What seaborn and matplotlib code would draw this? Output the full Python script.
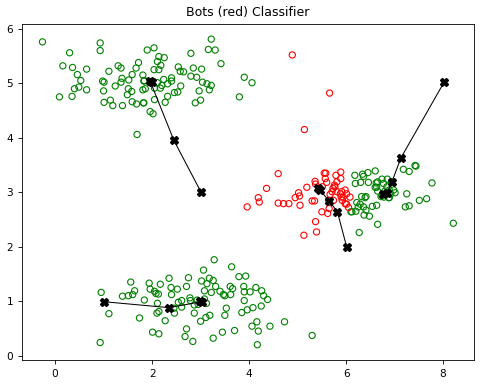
import matplotlib
matplotlib.use("Agg")
import matplotlib.pyplot as plt
import seaborn as sns
import pandas as pd

# green points (humans)
green_x = [-0.26, 0.30, 0.93, 0.93, 0.16, 0.36, 0.65, 0.46, 0.53, 0.98, 1.01, 0.40, 0.49, 0.65, 0.09, 0.35,
           1.00, 1.11, 1.30, 1.36, 1.24, 1.38, 1.36, 1.52, 1.59, 1.67, 1.72, 1.51, 1.58, 1.49, 1.01, 1.14,
           1.19, 1.39, 1.59, 1.68, 1.82, 1.81, 1.69, 1.84, 3.22, 3.16, 3.30, 2.80, 3.42, 1.90, 2.04, 2.14,
           2.25, 2.11, 2.18, 2.04, 2.14, 2.54, 2.58, 2.65, 2.85, 3.02, 2.80, 2.92, 3.04, 3.13, 3.22, 3.18,
           2.97, 3.00, 2.89, 3.90, 4.06, 3.80, 1.81, 1.83, 1.86, 2.05, 2.05, 1.83, 1.96, 2.02, 2.27, 2.32,
           2.46, 2.53, 2.59, 2.40, 2.40, 2.24, 2.20, 2.17, 2.32, 2.11,
           0.95, 1.11, 0.93, 1.39, 1.51, 1.60, 1.64, 1.56, 1.84, 1.74, 1.94, 1.96, 2.05, 2.08, 2.13, 2.17,
           2.11, 2.10, 2.14, 2.27, 2.01, 2.14, 2.35, 2.39, 2.52, 2.40, 2.75, 2.71, 2.46, 2.45, 2.54, 2.61,
           2.61, 2.79, 2.71, 2.68, 2.84, 3.28, 3.06, 3.64, 3.79, 3.93, 3.02, 3.18, 3.26, 3.13, 3.31, 3.08,
           3.22, 3.40, 3.47, 3.61, 3.66, 3.62, 3.50, 3.89, 3.90, 4.02, 4.14, 4.26, 4.30, 4.38, 3.90, 4.25,
           4.08, 3.96, 3.85, 3.53, 3.50, 3.19, 3.11, 3.00, 2.87, 2.87, 2.78, 4.16, 4.06, 4.19, 4.43, 4.73,
           3.70, 3.45, 3.26, 4.17, 5.30, 2.93, 3.08, 3.12, 2.95,
           6.18, 6.34, 6.36, 6.45, 6.60, 6.30, 6.46, 6.62, 6.74, 6.77, 6.60, 6.65, 6.84, 6.98, 7.01, 6.89,
           6.72, 7.25, 7.18, 7.30, 7.42, 7.44, 7.77, 7.51, 7.66, 7.22, 7.30, 8.21, 6.41, 6.65, 6.27, 6.22,
           6.29, 6.12, 6.36, 6.41, 6.54, 6.63, 6.37, 6.48, 6.85, 6.94, 6.65, 6.63, 6.74, 6.78, 6.88, 6.89,
           6.19, 6.20, 6.39, 6.32, 6.25, 6.10, 6.92, 6.80]
green_y = [5.76, 5.56, 5.74, 5.60, 5.32, 5.29, 5.26, 5.16, 5.05, 5.04, 5.02, 4.90, 4.93, 4.88, 4.75, 4.76,
           4.86, 5.22, 5.32, 5.28, 4.95, 5.09, 5.02, 5.06, 5.16, 5.28, 5.38, 4.90, 4.85, 4.79, 4.65, 4.69,
           4.59, 4.59, 4.66, 4.62, 4.64, 4.88, 4.06, 5.05, 5.81, 5.62, 5.61, 5.55, 5.36, 5.61, 5.65, 5.49,
           5.47, 5.40, 5.33, 5.25, 5.25, 5.30, 5.22, 5.21, 5.28, 5.26, 5.13, 5.11, 5.02, 4.99, 4.96, 4.88,
           4.86, 4.69, 4.64, 5.11, 5.01, 4.75, 5.15, 5.04, 4.90, 4.91, 4.70, 4.64, 4.48, 4.44, 4.65, 4.76,
           4.83, 4.84, 4.95, 5.10, 5.04, 5.07, 4.96, 4.91, 4.99, 5.01,
           1.16, 0.77, 0.24, 1.09, 1.10, 1.12, 1.19, 1.35, 1.02, 0.69, 1.33, 1.22, 1.18, 1.14, 1.13, 1.31,
           0.96, 0.78, 0.81, 0.64, 0.43, 0.40, 1.42, 1.25, 1.22, 1.12, 1.43, 1.27, 0.78, 0.87, 0.98, 1.01,
           0.89, 1.01, 0.49, 0.35, 0.26, 1.76, 1.57, 1.63, 1.45, 1.46, 1.37, 1.42, 1.38, 1.32, 1.27, 1.19,
           1.16, 1.18, 1.12, 1.27, 1.23, 1.12, 1.10, 1.27, 1.17, 1.17, 1.25, 1.19, 1.10, 1.03, 1.01, 0.91,
           0.88, 0.84, 0.79, 0.87, 0.74, 0.74, 0.70, 0.63, 0.78, 0.93, 1.06, 0.62, 0.54, 0.45, 0.54, 0.62,
           0.46, 0.43, 0.32, 0.20, 0.37, 1.02, 1.04, 0.96, 0.94,
           3.31, 3.33, 3.29, 3.36, 3.39, 3.18, 3.18, 3.17, 3.24, 3.16, 3.09, 3.02, 3.10, 3.04, 2.99, 2.90,
           2.92, 2.97, 3.42, 3.38, 3.49, 3.48, 3.17, 2.85, 2.88, 2.73, 2.75, 2.43, 2.92, 2.41, 2.26, 2.81,
           2.78, 2.64, 2.73, 2.67, 2.74, 2.76, 2.58, 2.56, 3.24, 3.19, 3.19, 3.09, 2.94, 2.91, 2.90, 3.04,
           3.16, 2.65, 2.90, 2.92, 2.73, 2.64, 2.97, 3.02]

# red points (bots)
red_x = [4.89, 5.66, 5.14, 4.60, 4.36, 4.19, 4.21, 3.96, 4.60, 4.71, 4.82, 5.05, 4.95, 5.02, 5.04, 5.19,
         5.30, 5.35, 5.36, 5.37, 5.55, 5.58, 5.57, 5.79, 5.89, 5.89, 5.77, 5.71, 5.67, 5.98, 5.90, 5.92,
         6.01, 6.05, 5.65, 5.62, 5.50, 5.37, 5.39, 5.13, 5.43, 5.74, 5.64, 5.81, 5.76, 5.73, 5.81, 5.88,
         5.94, 6.08, 6.01, 5.98, 5.91, 5.51, 5.60]
red_y = [5.52, 4.82, 4.15, 3.34, 3.07, 2.90, 2.82, 2.73, 2.80, 2.79, 2.79, 2.76, 2.90, 2.99, 2.93, 3.09,
         2.84, 2.84, 3.20, 3.15, 3.35, 3.35, 3.25, 3.31, 3.37, 3.25, 3.10, 3.01, 2.96, 3.04, 2.91, 2.85,
         2.78, 2.72, 2.70, 2.61, 2.64, 2.46, 2.27, 2.21, 3.05, 2.85, 2.85, 3.19, 3.13, 3.07, 3.01, 2.97,
         2.91, 2.91, 2.97, 2.79, 3.01, 3.10, 3.18]

# centroid trajectories
path_x = [[3.01, 2.45, 1.96, 2.00],
          [1.00, 2.35, 3.02, 2.99],
          [8.02, 7.13, 6.94, 6.84, 6.77],
          [6.01, 5.82, 5.65, 5.46, 5.42]]
path_y = [[3.00, 3.95, 5.04, 5.02],
          [0.99, 0.88, 0.99, 1.01],
          [5.02, 3.63, 3.18, 2.99, 2.97],
          [2.00, 2.64, 2.84, 3.04, 3.07]]

green = pd.DataFrame({"x": green_x, "y": green_y})
red = pd.DataFrame({"x": red_x, "y": red_y})

fig = plt.figure(figsize=(4.87, 3.85), dpi=100)
ax = fig.add_axes([0.045, 0.065, 0.928, 0.873])

sns.scatterplot(data=green, x="x", y="y", marker="o", s=20, facecolors="none",
                edgecolor="green", linewidth=0.8, ax=ax)
sns.scatterplot(data=red, x="x", y="y", marker="o", s=20, facecolors="none",
                edgecolor="red", linewidth=0.8, ax=ax)

for px, py in zip(path_x, path_y):
    ax.plot(px, py, color="black", linewidth=0.75, marker="X", markersize=5.5)

ax.set_title("Bots (red) Classifier", fontsize=9)
ax.set_xlabel("")
ax.set_ylabel("")
ax.tick_params(labelsize=7.6, length=2.7, width=0.6)
for s in ax.spines.values():
    s.set_linewidth(0.6)

fig.savefig("out.png", dpi=100)
